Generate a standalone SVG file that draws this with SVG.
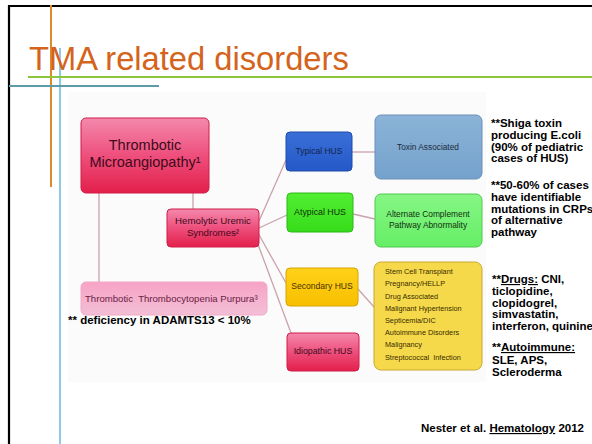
<svg xmlns="http://www.w3.org/2000/svg" width="592" height="444" viewBox="0 0 592 444">
<defs>
<linearGradient id="gRed" x1="0" y1="0" x2="0" y2="1"><stop offset="0" stop-color="#f489ad"/><stop offset="0.5" stop-color="#ee4f7c"/><stop offset="1" stop-color="#e31f4b"/></linearGradient>
<linearGradient id="gPink" x1="0" y1="0" x2="0" y2="1"><stop offset="0" stop-color="#f7a3c5"/><stop offset="1" stop-color="#f3bfd6"/></linearGradient>
<linearGradient id="gBlue" x1="0" y1="0" x2="0" y2="1"><stop offset="0" stop-color="#3a6fd8"/><stop offset="1" stop-color="#2558c8"/></linearGradient>
<linearGradient id="gSteel" x1="0" y1="0" x2="0" y2="1"><stop offset="0" stop-color="#8cb3d8"/><stop offset="1" stop-color="#74a2cc"/></linearGradient>
<linearGradient id="gGreen" x1="0" y1="0" x2="0" y2="1"><stop offset="0" stop-color="#52ee32"/><stop offset="1" stop-color="#36dc1a"/></linearGradient>
<linearGradient id="gLGreen" x1="0" y1="0" x2="0" y2="1"><stop offset="0" stop-color="#86f684"/><stop offset="1" stop-color="#66ee66"/></linearGradient>
<linearGradient id="gYellow" x1="0" y1="0" x2="0" y2="1"><stop offset="0" stop-color="#ffd21a"/><stop offset="1" stop-color="#f8bf00"/></linearGradient>
</defs>
<style>
.box{stroke-width:1}
.t{font-family:"Liberation Sans",Arial,sans-serif}
.b{font-family:"Liberation Sans",Arial,sans-serif;font-weight:bold;fill:#000}
.c{stroke:#c9a2aa;stroke-width:1.3;fill:none}
.u{text-decoration:underline}
</style>
<rect x="0" y="0" width="592" height="444" fill="#ffffff"/>
<rect x="68" y="92" width="418" height="290" fill="#fbfbfb"/>
<g id="frame">
<path d="M9,444 V6 H592" stroke="#000" stroke-width="2.2" fill="none"/>
<line x1="51" y1="5" x2="51" y2="187" stroke="#df8a2a" stroke-width="2"/>
<line x1="60" y1="48" x2="60" y2="444" stroke="#8ccbe8" stroke-width="2"/>
<line x1="9" y1="86" x2="159" y2="86" stroke="#5f9aa8" stroke-width="2"/>
<line x1="28" y1="77" x2="592" y2="77" stroke="#8cc63f" stroke-width="2"/>
</g>
<text id="title" class="t" x="29" y="70" font-size="32.7" fill="#d4631c">TMA related disorders</text>
<g id="connectors">
<line class="c" x1="193" y1="193" x2="193" y2="209"/>
<line class="c" x1="99" y1="193" x2="99" y2="282"/>
<line class="c" x1="259" y1="221" x2="286" y2="160"/>
<line class="c" x1="259" y1="228" x2="287" y2="215"/>
<line class="c" x1="258" y1="233" x2="286" y2="283"/>
<line class="c" x1="256" y1="239" x2="291" y2="333"/>
<line class="c" x1="352" y1="152" x2="375" y2="152"/>
<line class="c" x1="353" y1="214" x2="375" y2="219"/>
<line class="c" x1="358" y1="289" x2="374" y2="307"/>
</g>
<g id="tma">
<rect class="box" x="81" y="118" width="128" height="75" rx="5" fill="url(#gRed)" stroke="#d01c48"/>
<text class="t" x="145" y="150" font-size="14.5" fill="#3e0a1c" text-anchor="middle">Thrombotic</text>
<text class="t" x="145" y="167" font-size="14.5" fill="#3e0a1c" text-anchor="middle">Microangiopathy¹</text>
</g>
<g id="hus">
<rect class="box" x="167" y="209" width="92" height="38" rx="4" fill="url(#gRed)" stroke="#d01c48"/>
<text class="t" x="213" y="224" font-size="9.7" fill="#3e0a1c" text-anchor="middle">Hemolytic Uremic</text>
<text class="t" x="213" y="236" font-size="9.7" fill="#3e0a1c" text-anchor="middle">Syndromes²</text>
</g>
<g id="ttp">
<rect class="box" x="81" y="282" width="186" height="33" rx="5" fill="url(#gPink)" stroke="#f0a8c6"/>
<text class="t" x="85" y="302" font-size="9.6" fill="#6a2044" xml:space="preserve">Thrombotic  Thrombocytopenia Purpura³</text>
</g>
<text id="adamts" class="b" x="68" y="324" font-size="11.5">** deficiency in ADAMTS13 &lt; 10%</text>
<g id="typical">
<rect class="box" x="286" y="132" width="66" height="39" rx="4" fill="url(#gBlue)" stroke="#1f4aa8"/>
<text class="t" x="319" y="154" font-size="8.5" fill="#14244a" text-anchor="middle">Typical HUS</text>
</g>
<g id="toxin">
<rect class="box" x="375" y="115" width="107" height="64" rx="6" fill="url(#gSteel)" stroke="#6a90b8"/>
<text class="t" x="428" y="150" font-size="8.3" fill="#1c2a3c" text-anchor="middle">Toxin Associated</text>
</g>
<g id="atypical">
<rect class="box" x="287" y="193" width="66" height="39" rx="4" fill="url(#gGreen)" stroke="#2cb818"/>
<text class="t" x="320" y="215" font-size="8.8" fill="#10300c" text-anchor="middle">Atypical HUS</text>
</g>
<g id="alternate">
<rect class="box" x="375" y="194" width="107" height="53" rx="6" fill="url(#gLGreen)" stroke="#50c850"/>
<text class="t" x="428" y="217" font-size="8.4" fill="#103010" text-anchor="middle">Alternate Complement</text>
<text class="t" x="428" y="228" font-size="8.4" fill="#103010" text-anchor="middle">Pathway Abnormality</text>
</g>
<g id="secondary">
<rect class="box" x="286" y="268" width="72" height="38" rx="4" fill="url(#gYellow)" stroke="#d8a400"/>
<text class="t" x="322" y="289" font-size="8.6" fill="#4a3000" text-anchor="middle">Secondary HUS</text>
</g>
<g id="idiopathic">
<rect class="box" x="287" y="333" width="72" height="38" rx="4" fill="url(#gRed)" stroke="#d01c48"/>
<text class="t" x="323" y="354" font-size="8.8" fill="#3e0a1c" text-anchor="middle">Idiopathic HUS</text>
</g>
<g id="causes">
<rect class="box" x="374" y="262" width="108" height="108" rx="7" fill="#f5d94a" stroke="#c8a830"/>
<g class="t" font-size="7.3" fill="#3a2c00">
<text x="385" y="274">Stem Cell Transplant</text>
<text x="385" y="286">Pregnancy/HELLP</text>
<text x="385" y="298.5">Drug Associated</text>
<text x="385" y="310.5">Malignant Hypertension</text>
<text x="385" y="322.5">Septicemia/DIC</text>
<text x="385" y="335">Autoimmune Disorders</text>
<text x="385" y="347">Malignancy</text>
<text x="385" y="359.5" xml:space="preserve">Streptococcal  Infection</text>
</g>
</g>
<g id="notes" class="b" font-size="11.5">
<text x="491" y="127">**Shiga toxin</text>
<text x="491" y="139">producing E.coli</text>
<text x="491" y="150.5">(90% of pediatric</text>
<text x="491" y="162">cases of HUS)</text>
<text x="491" y="188.5">**50-60% of cases</text>
<text x="491" y="200.5">have identifiable</text>
<text x="491" y="212.5">mutations in CRPs</text>
<text x="491" y="224">of alternative</text>
<text x="491" y="236">pathway</text>
<text x="492" y="283">**<tspan class="u">Drugs:</tspan> CNI,</text>
<text x="492" y="295">ticlopidine,</text>
<text x="492" y="306.5">clopidogrel,</text>
<text x="492" y="318">simvastatin,</text>
<text x="492" y="330">interferon, quinine</text>
<text x="492" y="351">**<tspan class="u">Autoimmune:</tspan></text>
<text x="492" y="364">SLE, APS,</text>
<text x="492" y="376">Scleroderma</text>
</g>
<text id="citation" class="b" x="421" y="432" font-size="11.5">Nester et al. <tspan class="u">Hematology</tspan> 2012</text>
</svg>
